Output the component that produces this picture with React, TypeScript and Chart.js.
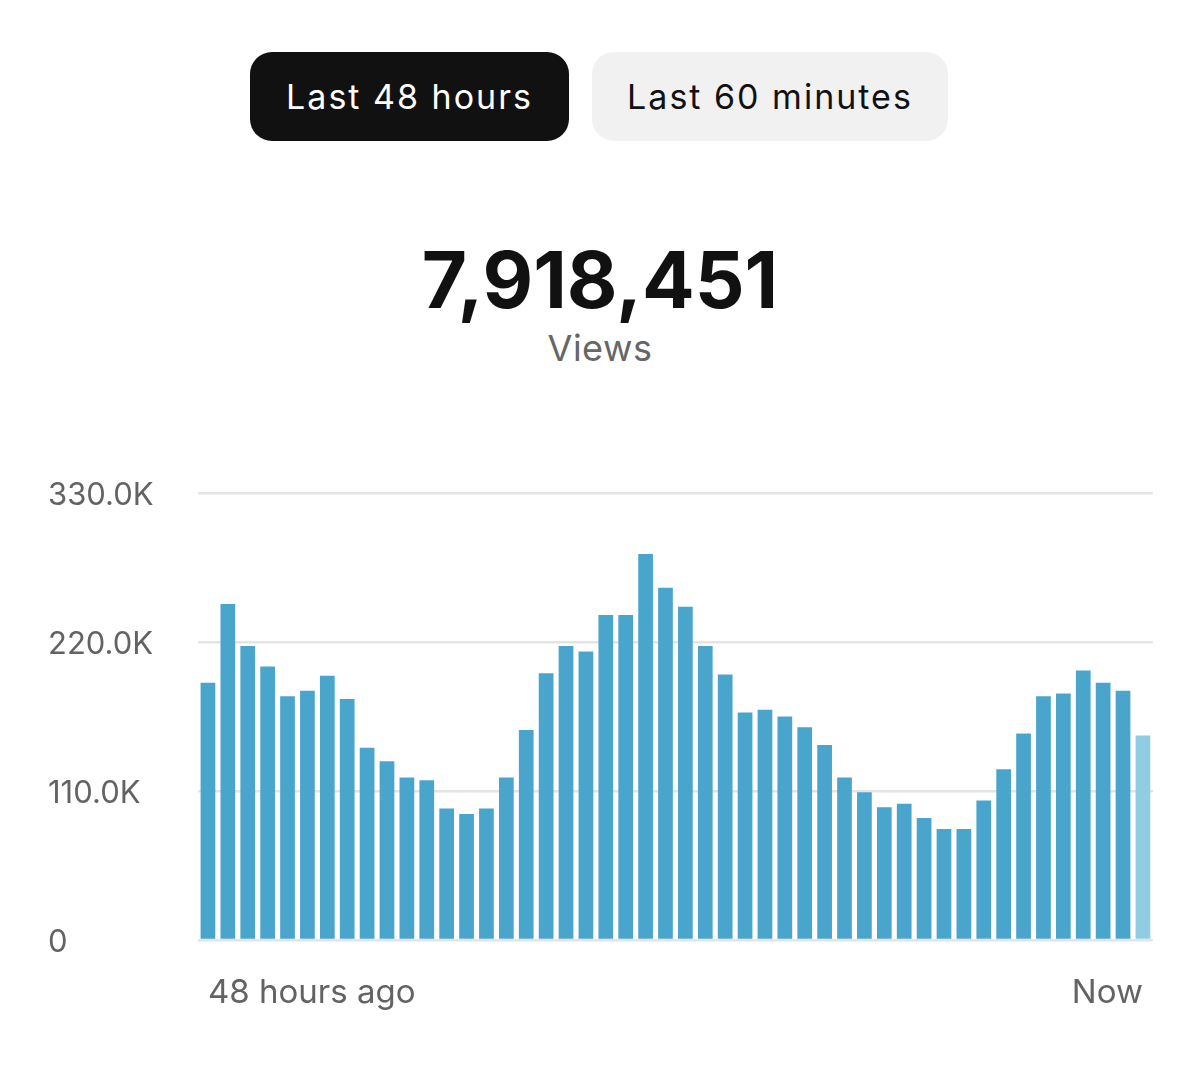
import React, { useEffect, useRef } from "react";
import { Chart, registerables } from "chart.js";

Chart.register(...registerables);

const hourLabels = [
  "48h", "47h", "46h", "45h", "44h", "43h", "42h", "41h", "40h", "39h", "38h", "37h",
  "36h", "35h", "34h", "33h", "32h", "31h", "30h", "29h", "28h", "27h", "26h", "25h",
  "24h", "23h", "22h", "21h", "20h", "19h", "18h", "17h", "16h", "15h", "14h", "13h",
  "12h", "11h", "10h", "9h", "8h", "7h", "6h", "5h", "4h", "3h", "2h", "1h",
];

const views = [
  190000, 248000, 217000, 202000, 180000, 184000, 195000, 178000, 142000, 132000, 120000, 118000,
  97000, 93000, 97000, 120000, 155000, 197000, 217000, 213000, 240000, 240000, 285000, 260000,
  246000, 217000, 196000, 168000, 170000, 165000, 157000, 144000, 120000, 109000, 98000, 100500,
  90000, 82000, 82000, 103000, 126000, 152500, 180000, 182000, 199000, 190000, 184000, 151000,
];

const yTickValues = [0, 110000, 220000, 330000];
const yTickLabels = ["0", "110.0K", "220.0K", "330.0K"];
const xTickLabels = ["48 hours ago", "Now"];

const totalViews = "7,918,451";
const totalLabel = "Views";
const tabs = ["Last 48 hours", "Last 60 minutes"];

const BAR = "#4aa5cd";
const BAR_LIGHT = "#91cde2";
const FONT = "Inter, 'Noto Sans', sans-serif";

export default function App() {
  const canvasRef = useRef<HTMLCanvasElement | null>(null);

  useEffect(() => {
    if (!canvasRef.current) return;
    const chart = new Chart(canvasRef.current, {
      type: "bar",
      data: {
        labels: hourLabels,
        datasets: [
          {
            data: views,
            backgroundColor: (ctx: any) =>
              ctx.dataIndex === views.length - 1 ? BAR_LIGHT : BAR,
            borderWidth: 0,
            barPercentage: 0.74,
            categoryPercentage: 1,
          },
        ],
      },
      options: {
        animation: false,
        responsive: true,
        maintainAspectRatio: false,
        devicePixelRatio: 1,
        layout: { padding: { top: 23, right: 8, left: 0, bottom: 0 } },
        plugins: {
          legend: { display: false },
          tooltip: { enabled: false },
        },
        scales: {
          x: {
            offset: true,
            grid: { display: false, drawTicks: false },
            border: { display: false },
            ticks: {
              autoSkip: false,
              maxRotation: 0,
              minRotation: 0,
              align: "inner",
              padding: 33,
              color: "#636363",
              font: { family: FONT, size: 33 },
              callback: (_v: any, i: number) =>
                i === 0 ? xTickLabels[0] : i === views.length - 1 ? xTickLabels[1] : "",
            },
            afterFit: (scale: any) => {
              scale.height = 90;
            },
          },
          y: {
            min: 0,
            max: 330000,
            afterBuildTicks: (scale: any) => {
              scale.ticks = yTickValues.map((v) => ({ value: v }));
            },
            grid: { color: "#e4e4e4", lineWidth: 2.5, drawTicks: false },
            border: { display: false },
            ticks: {
              crossAlign: "far",
              labelOffset: 3,
              color: "#636363",
              font: { family: FONT, size: 31 },
              callback: (v: any) => {
                const idx = yTickValues.indexOf(Number(v));
                return idx >= 0 ? yTickLabels[idx] : "";
              },
            },
            afterFit: (scale: any) => {
              scale.width = 150;
            },
          },
        },
      },
    } as any);
    return () => chart.destroy();
  }, []);

  const tabStyle: React.CSSProperties = {
    position: "absolute",
    top: 52,
    height: 89,
    borderRadius: 22,
    display: "flex",
    alignItems: "center",
    justifyContent: "center",
    fontSize: 34,
    letterSpacing: 2,
    lineHeight: 1,
  };

  return (
    <div
      style={{
        position: "absolute",
        left: 0,
        top: 0,
        width: 1200,
        height: 1090,
        background: "#ffffff",
        fontFamily: FONT,
        overflow: "hidden",
      }}
    >
      <div style={{ ...tabStyle, left: 250, width: 319, background: "#111111", color: "#ffffff" }}>
        {tabs[0]}
      </div>
      <div style={{ ...tabStyle, left: 592, width: 356, background: "#f1f1f1", color: "#111111" }}>
        {tabs[1]}
      </div>
      <div
        style={{
          position: "absolute",
          left: 0,
          width: 1200,
          top: 241,
          textAlign: "center",
          fontSize: 78,
          fontWeight: 700,
          lineHeight: 1,
          color: "#111111",
        }}
      >
        {totalViews}
      </div>
      <div
        style={{
          position: "absolute",
          left: 0,
          width: 1200,
          top: 330,
          textAlign: "center",
          fontSize: 36,
          lineHeight: 1,
          letterSpacing: 0.5,
          color: "#666666",
        }}
      >
        {totalLabel}
      </div>
      <div
        style={{
          position: "absolute",
          left: 48,
          top: 470,
          width: 1128,
          height: 560,
        }}
      >
        <canvas ref={canvasRef} />
      </div>
    </div>
  );
}
